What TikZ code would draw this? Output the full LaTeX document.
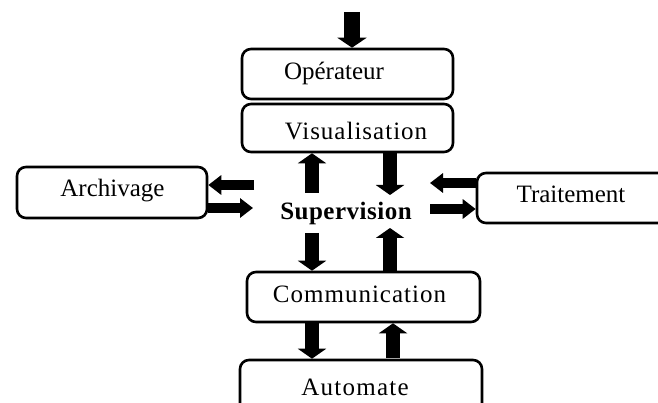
\documentclass[tikz,border=0pt]{standalone}
\usepackage{fontspec}
\setmainfont{Liberation Serif}
\usetikzlibrary{arrows.meta}
\begin{document}
\begin{tikzpicture}[x=1pt,y=-1pt,
  box/.style={draw, line width=2.6pt, rounded corners=9pt, fill=white, inner sep=0pt},
  lbl/.style={font=\fontsize{25}{28}\selectfont, inner sep=0pt, anchor=base},
  spaced/.style={font=\fontsize{25}{28}\selectfont\addfontfeature{LetterSpace=#1}},
  toparrow/.style={line width=16pt, -{Triangle[width=29pt,length=10pt]}},
  varrow/.style={line width=14pt, -{Triangle[width=28pt,length=10pt]}},
  harrow/.style={line width=10pt, -{Triangle[width=19pt,length=13pt]}},
]
\useasboundingbox (0,0) rectangle (658,403);
\clip (0,0) rectangle (658,403);

% boxes
\node[box, minimum width=211pt, minimum height=50pt] (op)    at (347.5,74)  {};
\node[box, minimum width=211pt, minimum height=48pt] (vis)   at (347.5,128) {};
\node[box, minimum width=190pt, minimum height=51pt] (arch)  at (112,192.5) {};
\node[box, minimum width=200pt, minimum height=50pt] (trait) at (577,198)   {};
\node[box, minimum width=233pt, minimum height=50pt] (comm)  at (363.5,297) {};
\node[box, minimum width=242pt, minimum height=60pt] (auto)  at (361,390)   {};

% labels
\node[lbl] (opl)    at (334,80)    {Opérateur};
\node[lbl, spaced=4] (visl) at (356,140) {Visualisation};
\node[lbl] (archl)  at (112.5,197) {Archivage};
\node[lbl] (traitl) at (571,203)   {Traitement};
\node[lbl, font=\fontsize{25}{28}\selectfont\bfseries\addfontfeature{LetterSpace=2}] (sup) at (346,220) {Supervision};
\node[lbl, spaced=4] (comml) at (359.5,302) {Communication};
\node[lbl, spaced=5] (autol) at (355,395)  {Automate};

% free ends of the arrows around the supervision core
\coordinate (in)  at (352,12);
\coordinate (su1) at (312,193);
\coordinate (sd1) at (390,155);
\coordinate (sd2) at (312,233);
\coordinate (su2) at (390,228);
\coordinate (al)  at (254,185);
\coordinate (ar)  at (253,208);
\coordinate (tl)  at (430,183);
\coordinate (tr)  at (430,209);
\coordinate (cd)  at (312,322);
\coordinate (cu)  at (393,358);

% arrows
\draw[toparrow] (in) -- (in |- op.north);
\draw[varrow] (su1) -- (su1 |- vis.south);
\draw[varrow] (sd1 |- vis.south) -- (390,195);
\draw[varrow] (sd2) -- (sd2 |- comm.north);
\draw[varrow] (su2 |- comm.north) -- (su2);
\draw[varrow] (cd) -- (cd |- auto.north);
\draw[varrow] (cu) -- (cu |- comm.south);
\draw[harrow] (al) -- (al -| arch.east);
\draw[harrow] (ar -| arch.east) -- (ar);
\draw[harrow] (tl -| trait.west) -- (tl);
\draw[harrow] (tr) -- (tr -| trait.west);
\end{tikzpicture}
\end{document}
